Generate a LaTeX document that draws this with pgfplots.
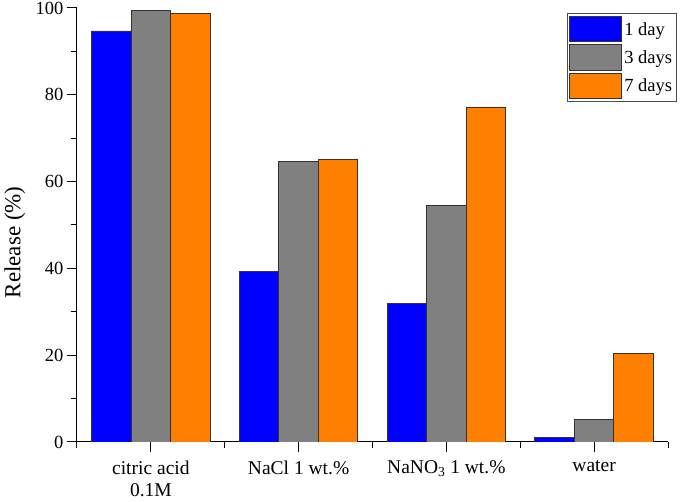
\documentclass[border=0pt]{standalone}
\usepackage{fontspec}
\setmainfont{Liberation Serif}
\usepackage{pgfplots}
\pgfplotsset{compat=1.18}
\definecolor{cblue}{RGB}{0,0,255}
\definecolor{cgray}{RGB}{128,128,128}
\definecolor{corange}{RGB}{255,128,0}
\begin{document}
\begin{tikzpicture}
\begin{axis}[
  scale only axis, width=591pt, height=434pt,
  xmin=-0.5, xmax=3.5, ymin=0, ymax=100,
  axis x line=bottom, axis y line=left,
  axis line style={-, line width=1pt, black},
  ybar=0pt, bar width=39.5pt,
  xtick={0,1,2,3},
  xticklabels={{citric acid\\0.1M}, {NaCl 1 wt.\%}, {NaNO\textsubscript{3} 1 wt.\%}, {water}},
  xticklabel style={align=center, font=\fontsize{19.5}{22}\selectfont, yshift=-5pt},
  minor xtick={-0.5,0.5,1.5,2.5,3.5},
  ytick={0,20,...,100}, minor ytick={10,30,50,70,90},
  yticklabel style={font=\fontsize{18.5}{22}\selectfont},
  /pgf/number format/assume math mode=true,
  tick align=outside, major tick length=10pt, minor tick length=6pt,
  tick style={line width=1pt, black},
  ylabel={Release (\%)},
  ylabel style={font=\fontsize{23}{26}\selectfont, at={(axis description cs:-0.105,0.46)}, anchor=center},
  legend image code/.code={\draw[#1] (0pt,-12.5pt) rectangle (52pt,13pt);},
  legend style={at={(1.015,0.988)}, anchor=north east, draw=black!70, line width=0.6pt,
    font=\fontsize{18.5}{21}\selectfont, row sep=2pt, inner sep=2.5pt},
  legend cell align=left,
]
\addplot[fill=cblue, draw=black!80, line width=0.8pt] coordinates {(0,94.7) (1,39.2) (2,32.0) (3,1.0)};
\addplot[fill=cgray, draw=black!80, line width=0.8pt] coordinates {(0,99.5) (1,64.6) (2,54.5) (3,5.1)};
\addplot[fill=corange, draw=black!80, line width=0.8pt] coordinates {(0,98.8) (1,65.0) (2,77.2) (3,20.3)};
\legend{1 day, 3 days, 7 days}
\end{axis}
\pgfresetboundingbox
\path (-77pt,-60pt) rectangle (608pt,442pt);
\end{tikzpicture}
\end{document}
